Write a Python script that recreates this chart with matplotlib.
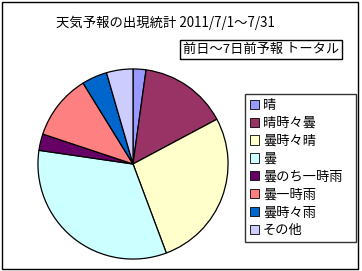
import matplotlib
matplotlib.use("Agg")
import matplotlib.pyplot as plt
from matplotlib.patches import Rectangle

plt.rcParams['font.family'] = ['Noto Sans CJK JP', 'DejaVu Sans']

categories = ["晴", "晴時々曇", "曇時々晴", "曇", "曇のち一時雨", "曇一時雨", "曇時々雨", "その他"]
values = [2.2, 15.0, 27.1, 33.0, 2.8, 11.1, 4.3, 4.5]
colors = ["#9999FF", "#993366", "#FFFFCC", "#CCFFFF", "#660066", "#FF8080", "#0066CC", "#CCCCFF"]
title = "天気予報の出現統計 2011/7/1～7/31"
subtitle = "前日～7日前予報 トータル"

W, H = 362, 271
fig = plt.figure(figsize=(W / 100, H / 100), dpi=100)
fig.patch.set_facecolor("white")

# outer border
fig.patches.append(Rectangle((1.5 / W, 2.0 / H), (358 - 1.5) / W, (269.5 - 2.0) / H,
                             transform=fig.transFigure, fill=False, edgecolor="black", linewidth=1.0))

cx, cy, r = 133, 164, 96
ax = fig.add_axes([(cx - r) / W, (H - cy - r) / H, 2 * r / W, 2 * r / H])
wedges, _ = ax.pie(values, colors=colors, startangle=90, counterclock=False,
                   wedgeprops=dict(edgecolor="black", linewidth=0.9), radius=1.0)
ax.set_xlim(-1.01, 1.01)
ax.set_ylim(-1.01, 1.01)
ax.set_aspect("equal")
ax.axis("off")

fig.text(165 / W, 1 - 23 / H, title, ha="center", va="center", fontsize=9.6)
fig.text(261 / W, 1 - 49.5 / H, subtitle, ha="center", va="center", fontsize=9.5,
         bbox=dict(boxstyle="square,pad=0.2", facecolor="white", edgecolor="black", linewidth=1.0))

leg = fig.legend(wedges, categories, loc="upper left",
                 bbox_to_anchor=(245 / W, 1 - 97 / H, (356 - 245) / W, 0.01),
                 mode="expand", fontsize=9.5, frameon=True, fancybox=False,
                 handlelength=0.7, handleheight=0.7, handletextpad=0.3,
                 labelspacing=0.37, borderpad=0.35, borderaxespad=0)
leg.get_frame().set_edgecolor("black")
leg.get_frame().set_linewidth(1.0)
for h in leg.legend_handles:
    h.set_linewidth(0.6)

fig.savefig("out.png", dpi=100)
